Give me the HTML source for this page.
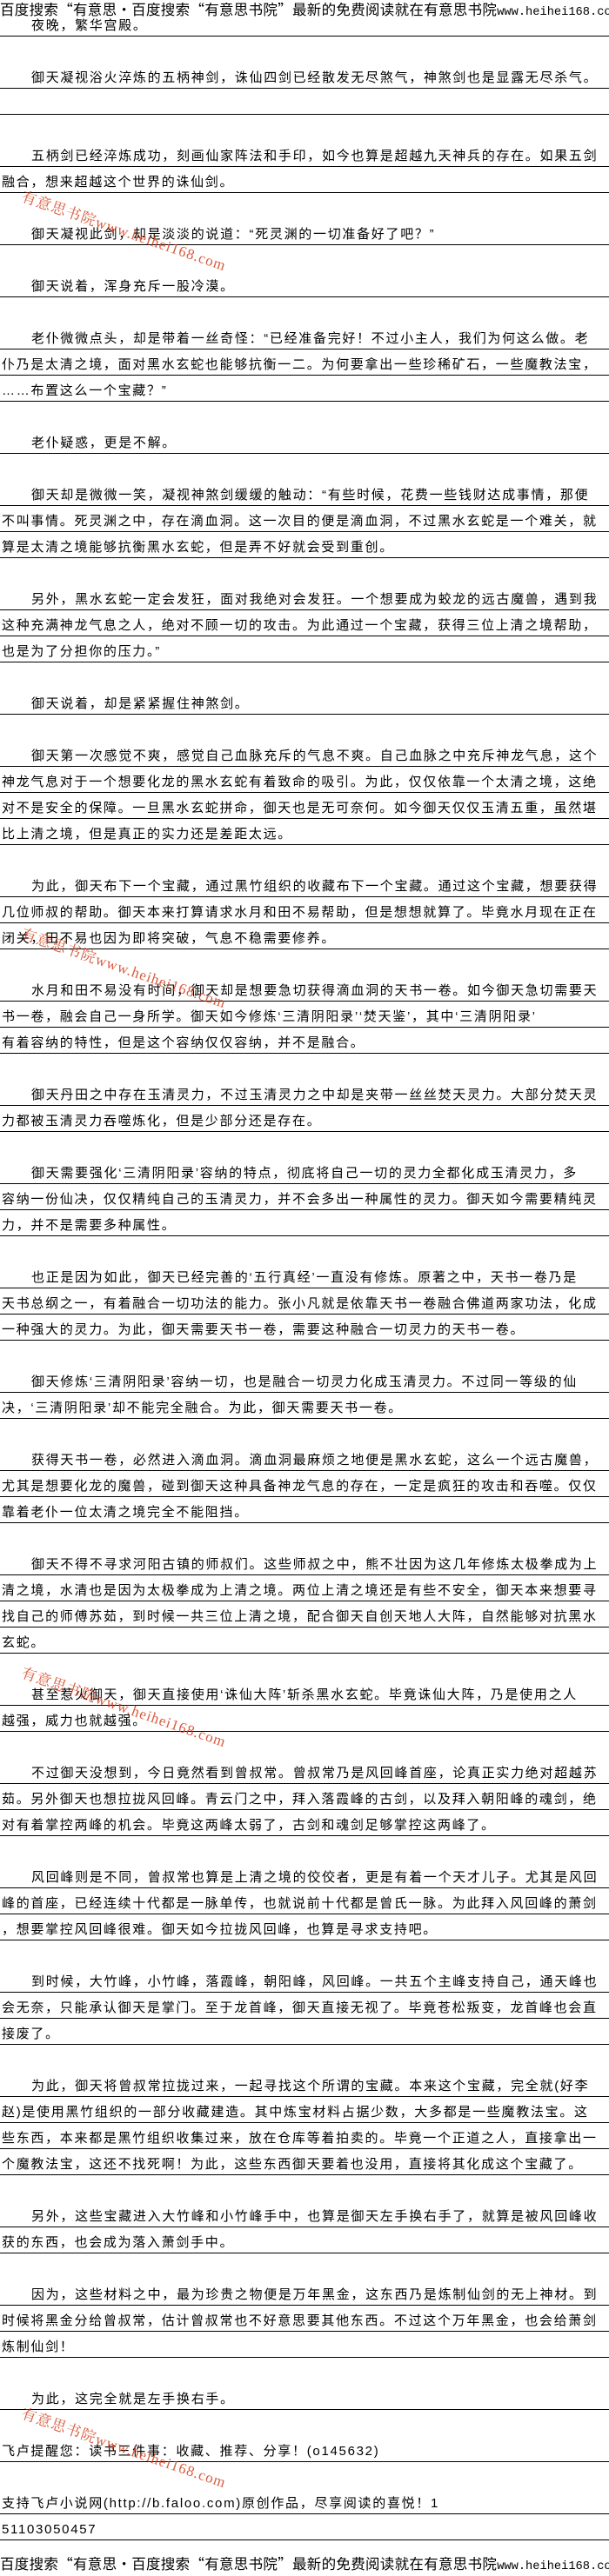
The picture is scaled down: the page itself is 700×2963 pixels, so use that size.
<!DOCTYPE html>
<html><head><meta charset="utf-8"><style>
html,body{margin:0;padding:0;background:#fff;}
body{width:700px;height:2961px;position:relative;overflow:hidden;font-family:"Liberation Sans","Noto Sans CJK SC","WenQuanYi Zen Hei",sans-serif;color:#000;}
.r{position:absolute;left:0;width:700px;height:29px;border-bottom:1px solid #000;font-size:15px;letter-spacing:1.7px;line-height:20px;white-space:nowrap;box-sizing:content-box;}
.r span{position:absolute;top:8px;left:2px;}
.r.i span{left:36px;}
.h{position:absolute;left:0;width:700px;font-family:"Noto Sans CJK SC","WenQuanYi Zen Hei",sans-serif;font-size:16.5px;line-height:20px;white-space:nowrap;letter-spacing:0.3px;}
.h b{font-weight:normal;font-family:"Liberation Mono",monospace;font-size:13.7px;letter-spacing:0;}
.w{position:absolute;color:#d2401e;font-family:"Liberation Serif","Noto Serif CJK SC",serif;font-size:17px;white-space:nowrap;transform-origin:0 0;transform:rotate(19deg);opacity:.85;letter-spacing:1px;}
</style></head><body>
<div class="h" style="top:0">百度搜索“有意思·百度搜索“有意思书院”最新的免费阅读就在有意思书院<b>www.heihei168.com</b></div>

<div class="r i" style="top:12px"><span>夜晚，繁华宫殿。</span></div>
<div class="r i" style="top:72px"><span>御天凝视浴火淬炼的五柄神剑，诛仙四剑已经散发无尽煞气，神煞剑也是显露无尽杀气。</span></div>
<div class="r" style="top:102px"><span></span></div>
<div class="r i" style="top:162px"><span>五柄剑已经淬炼成功，刻画仙家阵法和手印，如今也算是超越九天神兵的存在。如果五剑</span></div>
<div class="r" style="top:192px"><span>融合，想来超越这个世界的诛仙剑。</span></div>
<div class="r i" style="top:252px"><span>御天凝视此剑，却是淡淡的说道：“死灵渊的一切准备好了吧？”</span></div>
<div class="r i" style="top:312px"><span>御天说着，浑身充斥一股冷漠。</span></div>
<div class="r i" style="top:372px"><span>老仆微微点头，却是带着一丝奇怪：“已经准备完好！不过小主人，我们为何这么做。老</span></div>
<div class="r" style="top:402px"><span>仆乃是太清之境，面对黑水玄蛇也能够抗衡一二。为何要拿出一些珍稀矿石，一些魔教法宝，</span></div>
<div class="r" style="top:432px"><span>……布置这么一个宝藏？”</span></div>
<div class="r i" style="top:492px"><span>老仆疑惑，更是不解。</span></div>
<div class="r i" style="top:552px"><span>御天却是微微一笑，凝视神煞剑缓缓的触动：“有些时候，花费一些钱财达成事情，那便</span></div>
<div class="r" style="top:582px"><span>不叫事情。死灵渊之中，存在滴血洞。这一次目的便是滴血洞，不过黑水玄蛇是一个难关，就</span></div>
<div class="r" style="top:612px"><span>算是太清之境能够抗衡黑水玄蛇，但是弄不好就会受到重创。</span></div>
<div class="r i" style="top:672px"><span>另外，黑水玄蛇一定会发狂，面对我绝对会发狂。一个想要成为蛟龙的远古魔兽，遇到我</span></div>
<div class="r" style="top:702px"><span>这种充满神龙气息之人，绝对不顾一切的攻击。为此通过一个宝藏，获得三位上清之境帮助，</span></div>
<div class="r" style="top:732px"><span>也是为了分担你的压力。”</span></div>
<div class="r i" style="top:792px"><span>御天说着，却是紧紧握住神煞剑。</span></div>
<div class="r i" style="top:852px"><span>御天第一次感觉不爽，感觉自己血脉充斥的气息不爽。自己血脉之中充斥神龙气息，这个</span></div>
<div class="r" style="top:882px"><span>神龙气息对于一个想要化龙的黑水玄蛇有着致命的吸引。为此，仅仅依靠一个太清之境，这绝</span></div>
<div class="r" style="top:912px"><span>对不是安全的保障。一旦黑水玄蛇拼命，御天也是无可奈何。如今御天仅仅玉清五重，虽然堪</span></div>
<div class="r" style="top:942px"><span>比上清之境，但是真正的实力还是差距太远。</span></div>
<div class="r i" style="top:1002px"><span>为此，御天布下一个宝藏，通过黑竹组织的收藏布下一个宝藏。通过这个宝藏，想要获得</span></div>
<div class="r" style="top:1032px"><span>几位师叔的帮助。御天本来打算请求水月和田不易帮助，但是想想就算了。毕竟水月现在正在</span></div>
<div class="r" style="top:1062px"><span>闭关，田不易也因为即将突破，气息不稳需要修养。</span></div>
<div class="r i" style="top:1122px"><span>水月和田不易没有时间，御天却是想要急切获得滴血洞的天书一卷。如今御天急切需要天</span></div>
<div class="r" style="top:1152px"><span>书一卷，融会自己一身所学。御天如今修炼‘三清阴阳录’‘焚天鉴’，其中‘三清阴阳录’</span></div>
<div class="r" style="top:1182px"><span>有着容纳的特性，但是这个容纳仅仅容纳，并不是融合。</span></div>
<div class="r i" style="top:1242px"><span>御天丹田之中存在玉清灵力，不过玉清灵力之中却是夹带一丝丝焚天灵力。大部分焚天灵</span></div>
<div class="r" style="top:1272px"><span>力都被玉清灵力吞噬炼化，但是少部分还是存在。</span></div>
<div class="r i" style="top:1332px"><span>御天需要强化‘三清阴阳录’容纳的特点，彻底将自己一切的灵力全都化成玉清灵力，多</span></div>
<div class="r" style="top:1362px"><span>容纳一份仙决，仅仅精纯自己的玉清灵力，并不会多出一种属性的灵力。御天如今需要精纯灵</span></div>
<div class="r" style="top:1392px"><span>力，并不是需要多种属性。</span></div>
<div class="r i" style="top:1452px"><span>也正是因为如此，御天已经完善的‘五行真经’一直没有修炼。原著之中，天书一卷乃是</span></div>
<div class="r" style="top:1482px"><span>天书总纲之一，有着融合一切功法的能力。张小凡就是依靠天书一卷融合佛道两家功法，化成</span></div>
<div class="r" style="top:1512px"><span>一种强大的灵力。为此，御天需要天书一卷，需要这种融合一切灵力的天书一卷。</span></div>
<div class="r i" style="top:1572px"><span>御天修炼‘三清阴阳录’容纳一切，也是融合一切灵力化成玉清灵力。不过同一等级的仙</span></div>
<div class="r" style="top:1602px"><span>决，‘三清阴阳录’却不能完全融合。为此，御天需要天书一卷。</span></div>
<div class="r i" style="top:1662px"><span>获得天书一卷，必然进入滴血洞。滴血洞最麻烦之地便是黑水玄蛇，这么一个远古魔兽，</span></div>
<div class="r" style="top:1692px"><span>尤其是想要化龙的魔兽，碰到御天这种具备神龙气息的存在，一定是疯狂的攻击和吞噬。仅仅</span></div>
<div class="r" style="top:1722px"><span>靠着老仆一位太清之境完全不能阻挡。</span></div>
<div class="r i" style="top:1782px"><span>御天不得不寻求河阳古镇的师叔们。这些师叔之中，熊不壮因为这几年修炼太极拳成为上</span></div>
<div class="r" style="top:1812px"><span>清之境，水清也是因为太极拳成为上清之境。两位上清之境还是有些不安全，御天本来想要寻</span></div>
<div class="r" style="top:1842px"><span>找自己的师傅苏茹，到时候一共三位上清之境，配合御天自创天地人大阵，自然能够对抗黑水</span></div>
<div class="r" style="top:1872px"><span>玄蛇。</span></div>
<div class="r i" style="top:1932px"><span>甚至惹火御天，御天直接使用‘诛仙大阵’斩杀黑水玄蛇。毕竟诛仙大阵，乃是使用之人</span></div>
<div class="r" style="top:1962px"><span>越强，威力也就越强。</span></div>
<div class="r i" style="top:2022px"><span>不过御天没想到，今日竟然看到曾叔常。曾叔常乃是风回峰首座，论真正实力绝对超越苏</span></div>
<div class="r" style="top:2052px"><span>茹。另外御天也想拉拢风回峰。青云门之中，拜入落霞峰的古剑，以及拜入朝阳峰的魂剑，绝</span></div>
<div class="r" style="top:2082px"><span>对有着掌控两峰的机会。毕竟这两峰太弱了，古剑和魂剑足够掌控这两峰了。</span></div>
<div class="r i" style="top:2142px"><span>风回峰则是不同，曾叔常也算是上清之境的佼佼者，更是有着一个天才儿子。尤其是风回</span></div>
<div class="r" style="top:2172px"><span>峰的首座，已经连续十代都是一脉单传，也就说前十代都是曾氏一脉。为此拜入风回峰的萧剑</span></div>
<div class="r" style="top:2202px"><span>，想要掌控风回峰很难。御天如今拉拢风回峰，也算是寻求支持吧。</span></div>
<div class="r i" style="top:2262px"><span>到时候，大竹峰，小竹峰，落霞峰，朝阳峰，风回峰。一共五个主峰支持自己，通天峰也</span></div>
<div class="r" style="top:2292px"><span>会无奈，只能承认御天是掌门。至于龙首峰，御天直接无视了。毕竟苍松叛变，龙首峰也会直</span></div>
<div class="r" style="top:2322px"><span>接废了。</span></div>
<div class="r i" style="top:2382px"><span>为此，御天将曾叔常拉拢过来，一起寻找这个所谓的宝藏。本来这个宝藏，完全就(好李</span></div>
<div class="r" style="top:2412px"><span>赵)是使用黑竹组织的一部分收藏建造。其中炼宝材料占据少数，大多都是一些魔教法宝。这</span></div>
<div class="r" style="top:2442px"><span>些东西，本来都是黑竹组织收集过来，放在仓库等着拍卖的。毕竟一个正道之人，直接拿出一</span></div>
<div class="r" style="top:2472px"><span>个魔教法宝，这还不找死啊！为此，这些东西御天要着也没用，直接将其化成这个宝藏了。</span></div>
<div class="r i" style="top:2532px"><span>另外，这些宝藏进入大竹峰和小竹峰手中，也算是御天左手换右手了，就算是被风回峰收</span></div>
<div class="r" style="top:2562px"><span>获的东西，也会成为落入萧剑手中。</span></div>
<div class="r i" style="top:2622px"><span>因为，这些材料之中，最为珍贵之物便是万年黑金，这东西乃是炼制仙剑的无上神材。到</span></div>
<div class="r" style="top:2652px"><span>时候将黑金分给曾叔常，估计曾叔常也不好意思要其他东西。不过这个万年黑金，也会给萧剑</span></div>
<div class="r" style="top:2682px"><span>炼制仙剑！</span></div>
<div class="r i" style="top:2742px"><span>为此，这完全就是左手换右手。</span></div>
<div class="r" style="top:2802px"><span>飞卢提醒您：读书三件事：收藏、推荐、分享！(o145632)</span></div>
<div class="r" style="top:2862px"><span>支持飞卢小说网(http://b.faloo.com)原创作品，尽享阅读的喜悦！1</span></div>
<div class="r" style="top:2892px"><span>51103050457</span></div>

<div class="h" style="top:2938px">百度搜索“有意思·百度搜索“有意思书院”最新的免费阅读就在有意思书院<b>www.heihei168.com</b></div>

<div class="w" style="left:30px;top:212px">有意思书院www.heihei168.com</div>
<div class="w" style="left:30px;top:1060px">有意思书院www.heihei168.com</div>
<div class="w" style="left:30px;top:1910px">有意思书院www.heihei168.com</div>
<div class="w" style="left:30px;top:2762px">有意思书院www.heihei168.com</div>
</body></html>
